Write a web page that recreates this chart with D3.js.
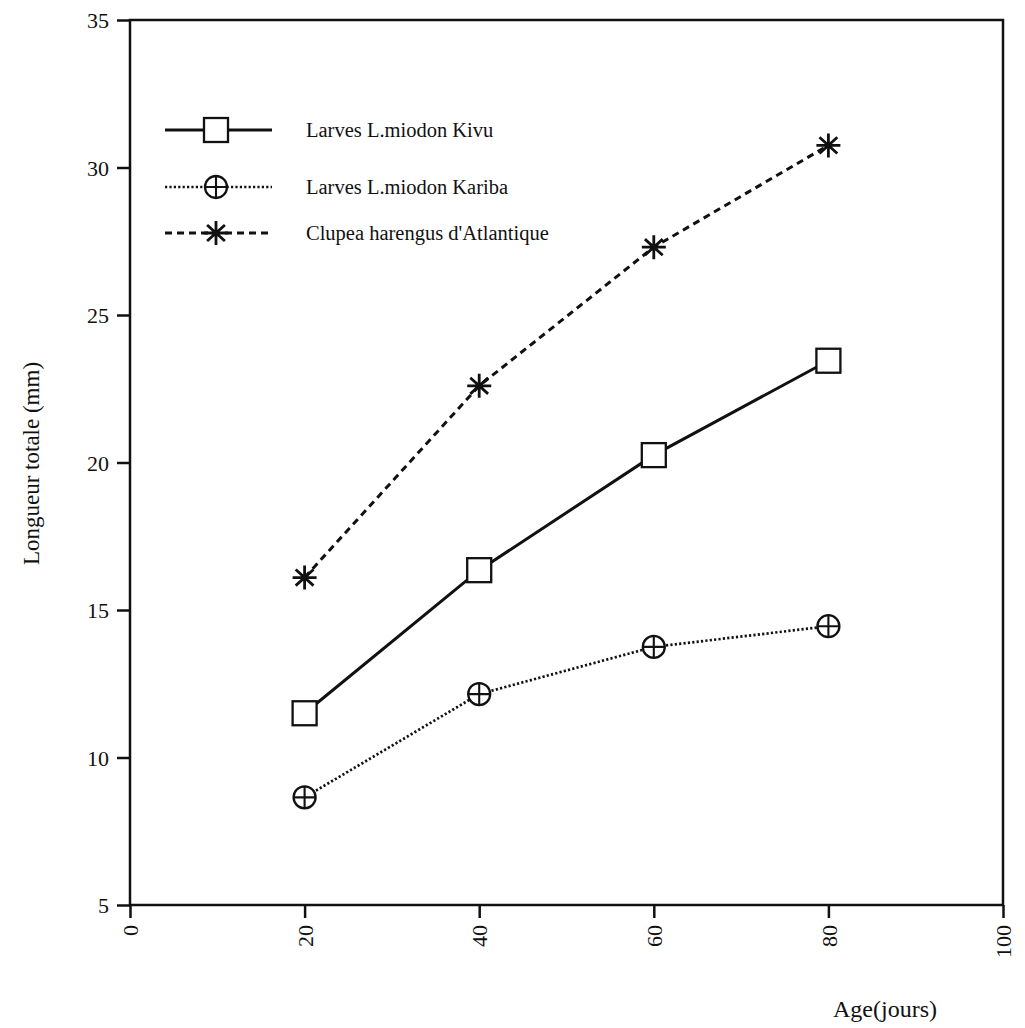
<!DOCTYPE html>
<html>
<head>
<meta charset="utf-8">
<script src="https://cdn.jsdelivr.net/npm/d3@7"></script>
<style>
  html, body { margin: 0; padding: 0; background: #fff; }
  svg text { font-family: "Liberation Serif", "Times New Roman", serif; fill: #111; }
</style>
</head>
<body>
<svg id="chart" width="1025" height="1028"></svg>
<script>
// Age in days
const ages = [20, 40, 60, 80];
// Total length (mm) of each group
const kivu   = [11.5, 16.35, 20.25, 23.45];
const kariba = [8.65, 12.15, 13.75, 14.45];
const clupea = [16.1, 22.6, 27.3, 30.75];
const seriesNames = ["Larves L.miodon Kivu", "Larves L.miodon Kariba", "Clupea harengus d'Atlantique"];
const xTicks = [0, 20, 40, 60, 80, 100];
const yTicks = [5, 10, 15, 20, 25, 30, 35];

const svg = d3.select("#chart");
const plotL = 130, plotR = 1003, plotT = 20, plotB = 905;
const x = d3.scaleLinear().domain([0, 100]).range([plotL, plotR]);
const y = d3.scaleLinear().domain([5, 35]).range([plotB, plotT]);
const ink = "#111";

// frame
svg.append("rect").attr("x", plotL).attr("y", plotT)
  .attr("width", plotR - plotL).attr("height", plotB - plotT)
  .attr("fill", "none").attr("stroke", ink).attr("stroke-width", 2.5);

// y axis
const gy = svg.append("g").attr("transform", `translate(${plotL},0)`)
  .call(d3.axisLeft(y).tickValues(yTicks).tickSize(13).tickPadding(8).tickFormat(d3.format("d")));
gy.select(".domain").remove();
gy.selectAll("line").attr("stroke", ink).attr("stroke-width", 2.5);
gy.selectAll("text").attr("font-size", 22).attr("dy", "0.35em");

// x axis with labels rotated upward
const gx = svg.append("g").attr("transform", `translate(0,${plotB})`)
  .call(d3.axisBottom(x).tickValues(xTicks).tickSize(13).tickFormat(d3.format("d")));
gx.select(".domain").remove();
gx.selectAll("line").attr("stroke", ink).attr("stroke-width", 2.5);
gx.selectAll("text")
  .attr("font-size", 22)
  .attr("transform", "rotate(-90)")
  .attr("text-anchor", "end")
  .attr("x", -20).attr("y", 0).attr("dy", "0.35em");

// axis titles
svg.append("text").attr("transform", `translate(39,${(plotT + plotB) / 2 + 1}) rotate(-90)`)
  .attr("text-anchor", "middle").attr("font-size", 23).text("Longueur totale (mm)");
svg.append("text").attr("x", 885).attr("y", 1017)
  .attr("text-anchor", "middle").attr("font-size", 24).text("Age(jours)");

// marker drawers
function square(g) {
  g.append("rect").attr("x", -12).attr("y", -12).attr("width", 24).attr("height", 24)
    .attr("fill", "#fff").attr("stroke", ink).attr("stroke-width", 2.3);
}
function crossCircle(g) {
  g.append("circle").attr("r", 11).attr("fill", "#fff").attr("stroke", ink).attr("stroke-width", 2.3);
  g.append("path").attr("d", "M-11,0H11M0,-11V11").attr("stroke", ink).attr("stroke-width", 2.1);
}
function star(g) {
  const r = 12, a = 12 * Math.cos(Math.PI / 4) * 1.05, b = 12 * Math.sin(Math.PI / 4) * 0.95;
  g.append("path")
    .attr("d", `M${-r},0H${r}M0,${-r}V${r}M${-a},${-b}L${a},${b}M${-a},${b}L${a},${-b}`)
    .attr("stroke", ink).attr("stroke-width", 2.8).attr("fill", "none");
}

const series = [
  { name: seriesNames[0], values: kivu,   dash: null,  width: 3.0, marker: square },
  { name: seriesNames[1], values: kariba, dash: "2.2,2.2", width: 2.7, marker: crossCircle },
  { name: seriesNames[2], values: clupea, dash: "7,5", width: 3.0, marker: star }
];

const line = d3.line().x(d => x(d[0])).y(d => y(d[1]));

series.forEach(s => {
  const pts = ages.map((a, i) => [a, s.values[i]]);
  svg.append("path").datum(pts).attr("d", line)
    .attr("fill", "none").attr("stroke", ink).attr("stroke-width", s.width)
    .attr("stroke-dasharray", s.dash);
  pts.forEach(p => {
    const g = svg.append("g").attr("transform", `translate(${x(p[0])},${y(p[1])})`);
    s.marker(g);
  });
});

// legend
const legY = [130, 187, 233];
series.forEach((s, i) => {
  const g = svg.append("g").attr("transform", `translate(0,${legY[i]})`);
  g.append("line").attr("x1", 165).attr("x2", 272).attr("y1", 0).attr("y2", 0)
    .attr("stroke", ink).attr("stroke-width", s.width).attr("stroke-dasharray", s.dash);
  const m = g.append("g").attr("transform", "translate(216,0)");
  s.marker(m);
  g.append("text").attr("x", 306).attr("y", 0).attr("dy", "0.35em")
    .attr("font-size", 20.5).text(s.name);
});
</script>
</body>
</html>
